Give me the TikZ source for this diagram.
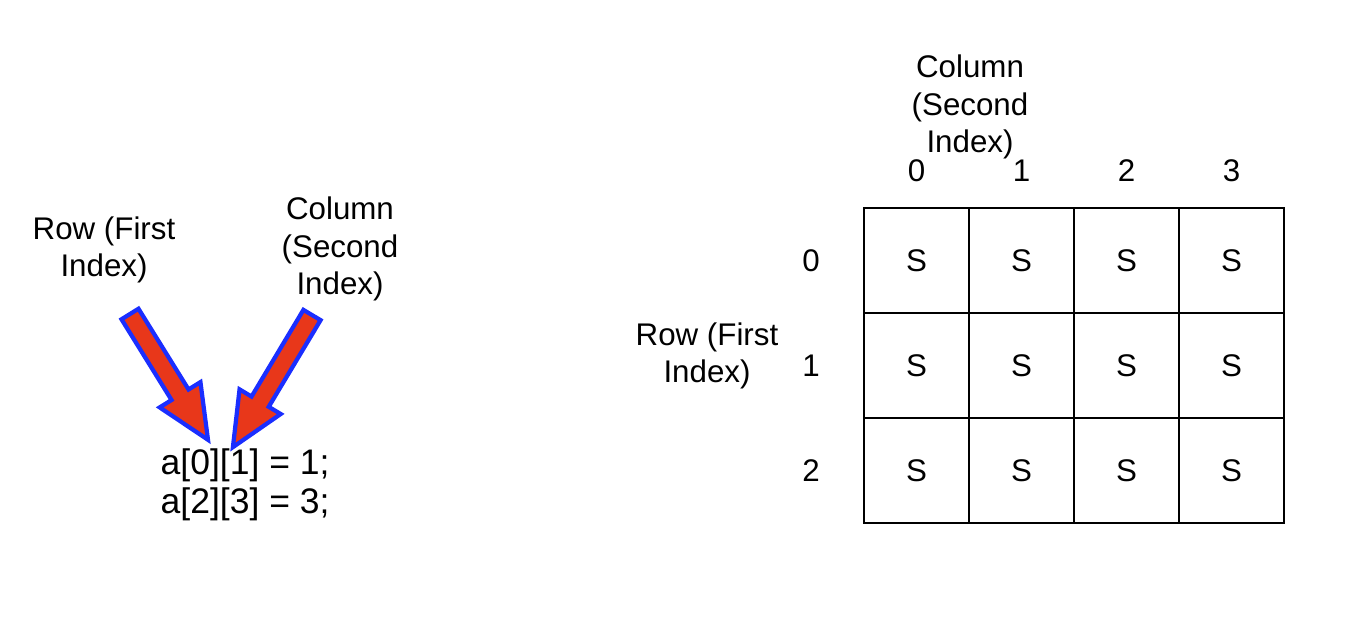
\documentclass[tikz,border=0pt]{standalone}
\usepackage{fontspec}
\setmainfont{Liberation Sans}
\definecolor{flecherouge}{HTML}{E8371A}
\definecolor{flechebleu}{HTML}{1A2EFF}
\begin{document}
\begin{tikzpicture}[x=0.01cm,y=-0.01cm,
  etiquette/.style={align=center, inner sep=0pt, font=\fontsize{8.9}{10.7}\selectfont},
  indice/.style={inner sep=0pt, font=\fontsize{8.9}{10.7}\selectfont},
  case/.style={draw, line width=0.6pt, minimum size=1.05cm, inner sep=0pt, font=\fontsize{8.9}{10.7}\selectfont},
  bloc/.style={fill=flecherouge, draw=flechebleu, line width=1.2pt, line join=miter}]

%%%%%%%%%%%%%%%%%%%%%%
%%%	 Def géométrie  %%%
%%%%%%%%%%%%%%%%%%%%%%

\def \cote{105}
\def \xgrille{864}
\def \ygrille{208}
\def \demitige{10}
\def \demitete{24}
\def \longtete{53}

\useasboundingbox (0,0) rectangle (1360,626);

%%%%%%%%%%%%%%%%%%%%%%
%%%	  Code à gauche  %%%
%%%%%%%%%%%%%%%%%%%%%%

\node[etiquette] (rowA) at (104,250) {Row (First\\Index)};
\node[etiquette] (colA) at (340,249) {Column\\(Second\\Index)};
\node[anchor=west, align=left, inner sep=0pt, font=\fontsize{10.1}{11.2}\selectfont] (code) at (160,485) {a[0][1] = 1;\\a[2][3] = 3;};

% On dessine les deux flèches pleines
\begin{scope}[shift={(130,314)}, rotate=-58.2]
\def \longueur{148}
\draw[bloc] (0,-\demitige) -- (\longueur-\longtete,-\demitige) -- (\longueur-\longtete,-\demitete)
  -- (\longueur,0) -- (\longueur-\longtete,\demitete) -- (\longueur-\longtete,\demitige) -- (0,\demitige) -- cycle;
\end{scope}
\begin{scope}[shift={(312,315)}, rotate=-120.9]
\def \longueur{154}
\draw[bloc] (0,-\demitige) -- (\longueur-\longtete,-\demitige) -- (\longueur-\longtete,-\demitete)
  -- (\longueur,0) -- (\longueur-\longtete,\demitete) -- (\longueur-\longtete,\demitige) -- (0,\demitige) -- cycle;
\end{scope}

%%%%%%%%%%%%%%%%%%%%%%
%%%	 Tableau à droite %%%
%%%%%%%%%%%%%%%%%%%%%%

\node[etiquette] (colB) at (970,107) {Column\\(Second\\Index)};
\node[etiquette] (rowB) at (707,356) {Row (First\\Index)};

\foreach \c in {0,...,3}{
  \node[indice] (c\c) at (\xgrille+\c*\cote+0.5*\cote,171) {\c};
  \foreach \r in {0,...,2}{
    \node[case] (s\r\c) at (\xgrille+\c*\cote+0.5*\cote,\ygrille+\r*\cote+0.5*\cote) {S};
  }
}
\foreach \r in {0,...,2}{
  \node[indice] (r\r) at (811,\ygrille+\r*\cote+0.5*\cote) {\r};
}

\end{tikzpicture}
\end{document}
